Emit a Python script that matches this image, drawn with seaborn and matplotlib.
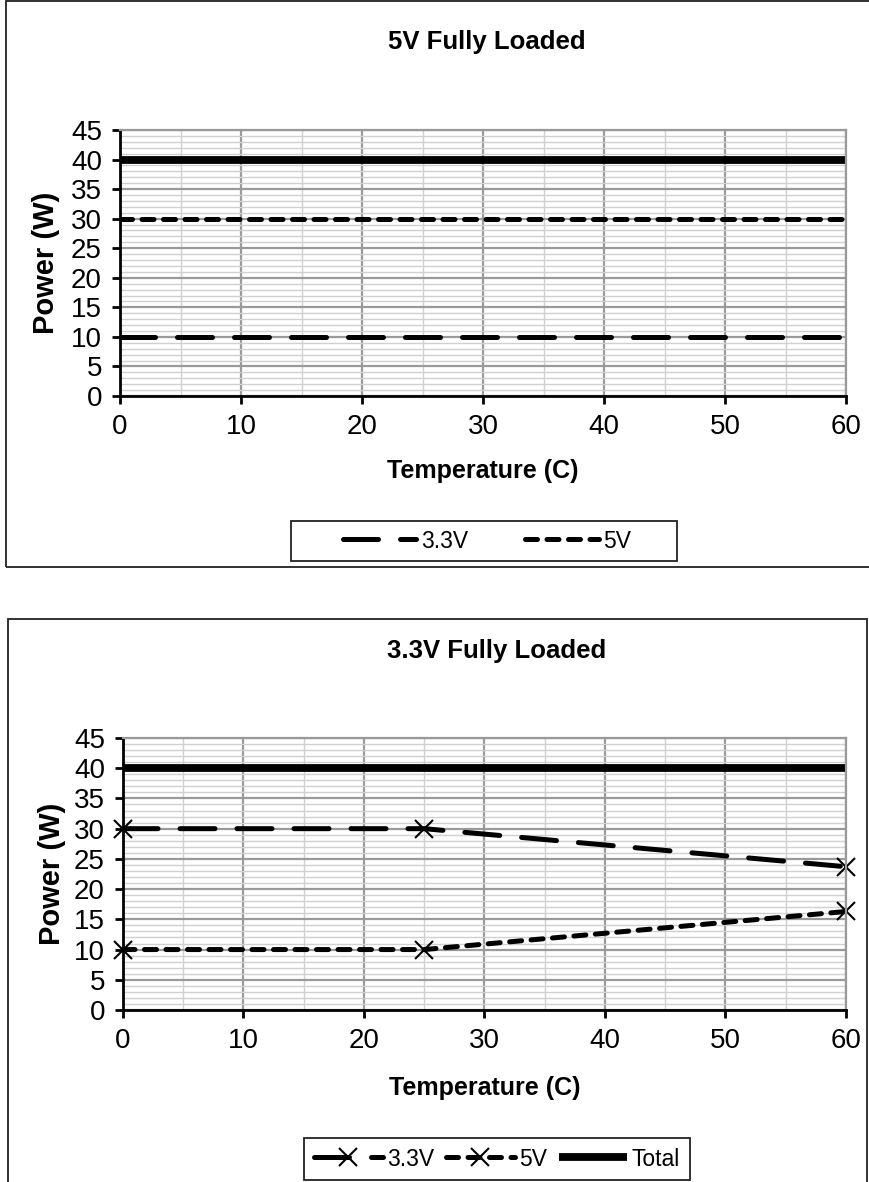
import matplotlib
matplotlib.use("Agg")
import matplotlib.pyplot as plt
import seaborn as sns
from matplotlib.patches import Rectangle
from matplotlib.ticker import MultipleLocator

# ============================================================================
# DATA
# ============================================================================
TEMPS = [0, 25, 60]

TOP_33V = [10, 10, 10]
TOP_5V = [30, 30, 30]
TOP_TOTAL = [40, 40, 40]

BOT_33V = [30, 30, 23.7]
BOT_5V = [10, 10, 16.3]
BOT_TOTAL = [40, 40, 40]

TITLES = ["5V Fully Loaded", "3.3V Fully Loaded"]
X_LABEL = "Temperature (C)"
Y_LABEL = "Power (W)"
X_TICKS = [0, 10, 20, 30, 40, 50, 60]
Y_TICKS = [0, 5, 10, 15, 20, 25, 30, 35, 40, 45]

# ============================================================================
# STYLE
# ============================================================================
W, H = 869, 1182
LONG_DASH = (7.0, 4.4)
SHORT_DASH = (2.4, 1.9)
DASH_LW = 3.6
TOTAL_LW = 5.6

sns.set_style("white")
plt.rcParams['font.family'] = ['Liberation Sans', 'DejaVu Sans']
plt.rcParams['text.color'] = 'black'
plt.rcParams['axes.labelcolor'] = 'black'
plt.rcParams['xtick.color'] = 'black'
plt.rcParams['ytick.color'] = 'black'


def fig_box(x0, y0, x1, y1):
    """pixel box (top-left origin) -> figure fraction rect"""
    return [x0 / W, 1 - y1 / H, (x1 - x0) / W, (y1 - y0) / H]


def style_axes(ax):
    ax.set_xlim(0, 60)
    ax.set_ylim(0, 45)
    ax.set_xticks(X_TICKS)
    ax.set_yticks(Y_TICKS)
    ax.xaxis.set_minor_locator(MultipleLocator(5))
    ax.yaxis.set_minor_locator(MultipleLocator(1))
    ax.grid(which='major', color='#9a9a9a', lw=1.6)
    ax.grid(which='minor', color='#d0d0d0', lw=1.0)
    ax.set_axisbelow(True)
    for side in ['top', 'right']:
        ax.spines[side].set_color('#9a9a9a')
        ax.spines[side].set_linewidth(1.6)
    for side in ['left', 'bottom']:
        ax.spines[side].set_color('black')
        ax.spines[side].set_linewidth(2.0)
    ax.tick_params(which='major', direction='out', length=6, width=2.0,
                   color='black', labelcolor='black', labelsize=20, pad=7,
                   bottom=True, left=True)
    ax.tick_params(which='minor', length=0)
    ax.set_xlabel(X_LABEL, fontsize=18, fontweight='bold', color='black')
    ax.set_ylabel(Y_LABEL, fontsize=21, fontweight='bold', color='black')
    ax.xaxis.label.set_va('center')
    ax.yaxis.label.set_va('center')


def frame(fig, x0, y0, x1, y1):
    r = Rectangle((x0 / W, 1 - y1 / H), (x1 - x0) / W, (y1 - y0) / H,
                  transform=fig.transFigure, fill=False,
                  edgecolor='#222222', lw=1.3, clip_on=False)
    fig.add_artist(r)


fig = plt.figure(figsize=(W / 100, H / 100), dpi=100)

# ============================================================================
# TOP CHART: 5V FULLY LOADED
# ============================================================================
frame(fig, 6, 1, 880, 567)
ax1 = fig.add_axes(fig_box(120, 130, 846, 396))
sns.lineplot(x=TEMPS, y=TOP_33V, ax=ax1, color='black', lw=DASH_LW,
             linestyle=(0, LONG_DASH), dash_capstyle='round', label='3.3V')
sns.lineplot(x=TEMPS, y=TOP_5V, ax=ax1, color='black', lw=DASH_LW,
             linestyle=(0, SHORT_DASH), dash_capstyle='round', label='5V')
sns.lineplot(x=TEMPS, y=TOP_TOTAL, ax=ax1, color='black', lw=TOTAL_LW,
             solid_capstyle='butt', clip_on=False)
style_axes(ax1)
ax1.xaxis.set_label_coords(0.5, (396 - 471) / 266)
ax1.yaxis.set_label_coords((46 - 120) / 726, 0.5)
fig.text(487 / W, 1 - 42 / H, TITLES[0], ha='center', va='center',
         fontsize=18.5, fontweight='bold', color='black')

h, l = ax1.get_legend_handles_labels()
ax1.legend(h, l, loc='center', bbox_to_anchor=(487 / W, 1 - 541 / H),
           bbox_transform=fig.transFigure, ncol=2, frameon=False,
           fontsize=16.5, handlelength=3.2, handletextpad=0.2,
           columnspacing=2.5, labelcolor='black')
frame(fig, 291, 521, 677, 561)

# ============================================================================
# BOTTOM CHART: 3.3V FULLY LOADED
# ============================================================================
frame(fig, 8, 619, 867, 1195)
ax2 = fig.add_axes(fig_box(123, 738, 846, 1010))
mk = dict(marker='x', markersize=13, markeredgewidth=1.5,
          markeredgecolor='black', clip_on=False)
sns.lineplot(x=TEMPS, y=BOT_33V, ax=ax2, color='black', lw=DASH_LW,
             linestyle=(0, LONG_DASH), dash_capstyle='round', label='3.3V',
             **mk)
sns.lineplot(x=TEMPS, y=BOT_5V, ax=ax2, color='black', lw=DASH_LW,
             linestyle=(0, SHORT_DASH), dash_capstyle='round', label='5V',
             **mk)
sns.lineplot(x=TEMPS, y=BOT_TOTAL, ax=ax2, color='black', lw=TOTAL_LW,
             solid_capstyle='butt', label='Total', clip_on=False)
style_axes(ax2)
ax2.xaxis.set_label_coords(0.5, (1010 - 1088) / 272)
ax2.yaxis.set_label_coords((52 - 123) / 723, 0.5)
fig.text(497 / W, 1 - 651 / H, TITLES[1], ha='center', va='center',
         fontsize=18.5, fontweight='bold', color='black')

h, l = ax2.get_legend_handles_labels()
ax2.legend(h, l, loc='center', bbox_to_anchor=(497 / W, 1 - 1159 / H),
           bbox_transform=fig.transFigure, ncol=3, frameon=False,
           fontsize=16.5, handlelength=3.0, handletextpad=0.2,
           columnspacing=0.5, numpoints=1, labelcolor='black')
frame(fig, 304, 1138, 690, 1180)

fig.savefig('out.png', dpi=100)
